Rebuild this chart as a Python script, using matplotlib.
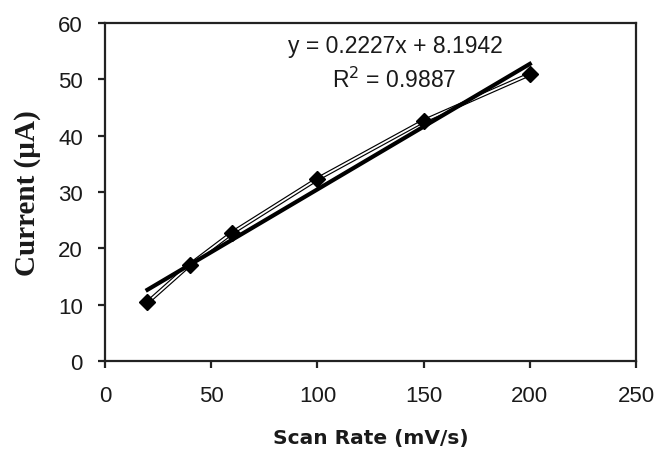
import matplotlib
matplotlib.use("Agg")
import matplotlib.pyplot as plt
import numpy as np

scan_rate = [20, 40, 60, 100, 150, 200]
current = [10.4, 17.1, 22.8, 32.3, 42.6, 50.9]
slope = 0.2227
intercept = 8.1942
r_squared = 0.9887
x_ticks = [0, 50, 100, 150, 200, 250]
y_ticks = [0, 10, 20, 30, 40, 50, 60]

fig = plt.figure(figsize=(6.54, 4.56), dpi=100)
ax = fig.add_axes([105/654, 1-362/456, (636-105)/654, (362-24)/456])

# data series line (double-line look)
ax.plot(scan_rate, current, color='black', lw=3.0, zorder=2, solid_capstyle='butt')
ax.plot(scan_rate, current, color='white', lw=1.3, zorder=3, solid_capstyle='butt')
# trend line
xs = np.array([scan_rate[0], scan_rate[-1]])
ax.plot(xs, slope*xs + intercept, color='black', lw=3.0, zorder=4)
# markers
ax.plot(scan_rate, current, linestyle='none', marker='D', markersize=8,
        color='black', zorder=5)

ax.set_xlim(0, 250)
ax.set_ylim(0, 60)
ax.set_xticks(x_ticks)
ax.set_yticks(y_ticks)

for s in ax.spines.values():
    s.set_linewidth(1.6)
    s.set_color('#222222')

ax.tick_params(direction='out', length=5, width=1.6, color='#222222',
               labelsize=16, labelcolor='#1a1a1a')
ax.tick_params(axis='y', pad=11)
ax.tick_params(axis='x', pad=12)
for lab in ax.get_xticklabels() + ax.get_yticklabels():
    lab.set_fontfamily('Liberation Sans')

fig.text(395/654, 1-47/456, f"y = {slope}x + {intercept}",
         fontsize=16.5, family='Liberation Sans', ha='center', va='center', color='#1a1a1a')
fig.text(394/654, 1-80/456, f"R$^2$ = {r_squared}",
         fontsize=16.5, family='Liberation Sans', ha='center', va='center', color='#1a1a1a')

ax.set_xlabel("Scan Rate (mV/s)", fontsize=14.5, fontweight='bold',
              family='DejaVu Sans', labelpad=16, color='#1a1a1a')
ax.set_ylabel("Current (\u00b5A)", fontsize=21, fontweight='bold',
              family='Liberation Serif', labelpad=12, color='#1a1a1a')

fig.savefig("out.png", dpi=100)
